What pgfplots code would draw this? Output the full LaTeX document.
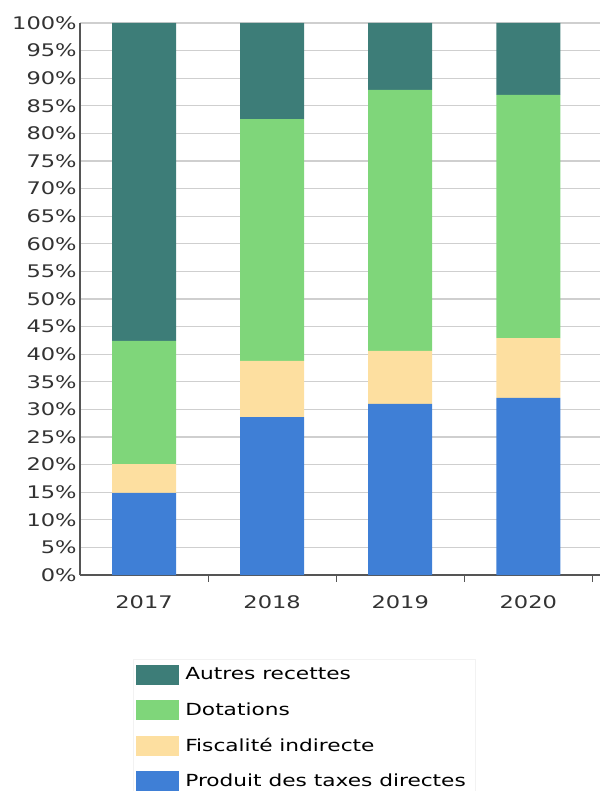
\documentclass[border=0pt]{standalone}
\usepackage{pgfplots}
\pgfplotsset{compat=1.18}
\usepackage{fontspec}
\setmainfont[FakeStretch=1.3]{DejaVu Sans}
\definecolor{autres}{HTML}{3D7D78}
\definecolor{dotations}{HTML}{7FD67A}
\definecolor{fiscal}{HTML}{FDDFA0}
\definecolor{taxes}{HTML}{3F7FD6}
\definecolor{gridgray}{HTML}{CFCFCF}
\definecolor{axisgray}{HTML}{555555}
\begin{document}
\begin{tikzpicture}
  \useasboundingbox (-60pt,-162pt) rectangle (390pt,431.25pt);
  \begin{axis}[
      at={(0,0)}, anchor=south west,
      scale only axis,
      width=390pt, height=414pt,
      ybar stacked,
      bar width=48pt,
      xmin=-0.5, xmax=3.56,
      ymin=0, ymax=100,
      xtick={0,1,2,3},
      xticklabels={2017,2018,2019,2020},
      minor xtick={0.5,1.5,2.5,3.5},
      ytick={0,5,...,100},
      yticklabel={\pgfmathprintnumber{\tick}\%},
      major tick length=0pt,
      minor tick length=5pt,
      tick align=outside,
      minor tick style={axisgray, line width=0.6pt},
      axis x line*=bottom,
      axis y line*=left,
      axis line style={axisgray, line width=1.3pt, -},
      ymajorgrids=true,
      major grid style={gridgray, line width=0.8pt},
      tick label style={font=\fontsize{13}{15}\selectfont, text=black!80},
      yticklabel style={xshift=1pt},
      xticklabel style={yshift=-12pt},
      /pgf/number format/assume math mode=true,
      clip=false,
      reverse legend,
      legend cell align=left,
      legend style={at={(0.102,-0.152)}, anchor=north west,
        draw=black!5, font=\fontsize{12.5}{14}\selectfont,
        row sep=11.5pt, inner xsep=2pt, inner ysep=4pt,
        nodes={inner xsep=5pt}},
      legend image code/.code={\fill[#1] (0pt,-7.5pt) rectangle (32pt,7.5pt);},
  ]
    \addplot[fill=taxes, draw=none] coordinates {(0,14.9) (1,28.6) (2,31.0) (3,32.1)};
    \addplot[fill=fiscal, draw=none] coordinates {(0,5.2) (1,10.2) (2,9.6) (3,10.8)};
    \addplot[fill=dotations, draw=none] coordinates {(0,22.3) (1,43.8) (2,47.3) (3,44.1)};
    \addplot[fill=autres, draw=none] coordinates {(0,57.6) (1,17.4) (2,12.1) (3,13.0)};
    \legend{Produit des taxes directes, Fiscalité indirecte, Dotations, Autres recettes}
  \end{axis}
\end{tikzpicture}
\end{document}
